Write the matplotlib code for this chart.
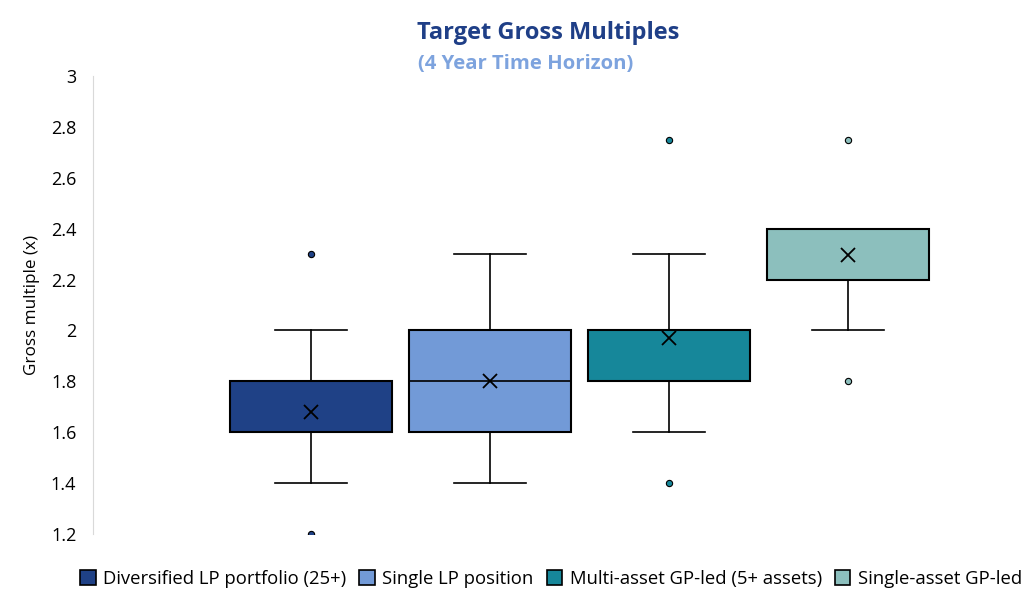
import matplotlib.pyplot as plt
from matplotlib.patches import Patch

plt.rcParams['font.family'] = ['Open Sans', 'DejaVu Sans']

categories = ["Diversified LP portfolio (25+)", "Single LP position",
              "Multi-asset GP-led (5+ assets)", "Single-asset GP-led"]
colors = ["#1F4186", "#729AD7", "#16879A", "#8CBFBD"]

whisker_low = [1.4, 1.4, 1.6, 2.0]
q1 = [1.6, 1.6, 1.8, 2.2]
medians = [1.6, 1.8, 2.0, 2.2]
q3 = [1.8, 2.0, 2.0, 2.4]
whisker_high = [2.0, 2.3, 2.3, 2.4]
means = [1.68, 1.80, 1.97, 2.295]
outliers = [[1.2, 2.3], [], [1.4, 2.75], [1.8, 2.75]]

stats = []
for i, name in enumerate(categories):
    stats.append({"label": name, "whislo": whisker_low[i], "q1": q1[i],
                  "med": medians[i], "q3": q3[i], "whishi": whisker_high[i],
                  "mean": means[i], "fliers": outliers[i]})

fig = plt.figure(figsize=(10.33, 5.96), dpi=100)
ax = fig.add_axes([93 / 1033, 62 / 596, 937 / 1033, 458 / 596])

positions = [1, 2, 3, 4]
bp = ax.bxp(stats, positions=positions, widths=0.9, patch_artist=True,
            showmeans=True, showcaps=True,
            boxprops=dict(edgecolor="black", linewidth=1.5),
            medianprops=dict(color="black", linewidth=1.2),
            whiskerprops=dict(color="black", linewidth=1.2),
            capprops=dict(color="black", linewidth=1.2),
            meanprops=dict(marker="x", markeredgecolor="black",
                           markersize=10, markeredgewidth=1.3),
            flierprops=dict(marker="o", markersize=4.5,
                            markeredgecolor="black", markeredgewidth=0.8))
for i, box in enumerate(bp["boxes"]):
    box.set_facecolor(colors[i])
for i, fl in enumerate(bp["fliers"]):
    fl.set_markerfacecolor(colors[i])
for cap in bp["caps"]:
    x = cap.get_xdata()
    c = (x[0] + x[1]) / 2
    cap.set_xdata([c - 0.2, c + 0.2])

ax.set_xlim(-0.218, 5.017)
ax.set_ylim(1.2, 3.0)
ax.set_yticks([1.2, 1.4, 1.6, 1.8, 2.0, 2.2, 2.4, 2.6, 2.8, 3.0])
ax.set_yticklabels(["1.2", "1.4", "1.6", "1.8", "2", "2.2", "2.4", "2.6", "2.8", "3"])
ax.set_xticks([])
for s in ["top", "right", "bottom"]:
    ax.spines[s].set_visible(False)
ax.spines["left"].set_color("#D9D9D9")
ax.tick_params(axis="y", length=0, labelsize=13, pad=12)
ax.set_ylabel("Gross multiple (x)", fontsize=12.3, labelpad=8)

fig.text(548 / 1033, 1 - 33 / 596, "Target Gross Multiples", ha="center",
         va="center", fontsize=17, fontweight="bold", color="#1F3F87")
fig.text(526 / 1033, 1 - 64 / 596, "(4 Year Time Horizon)", ha="center",
         va="center", fontsize=14.6, fontweight="bold", color="#7DA3DE")

handles = [Patch(facecolor=c, edgecolor="black", linewidth=1.2) for c in colors]
fig.legend(handles, categories, loc="center", bbox_to_anchor=(551 / 1033, 1 - 579 / 596),
           ncol=4, frameon=False, fontsize=13.3, handlelength=0.85, handleheight=0.85,
           handletextpad=0.4, columnspacing=0.7, borderpad=0)

fig.savefig("out.png", dpi=100)
